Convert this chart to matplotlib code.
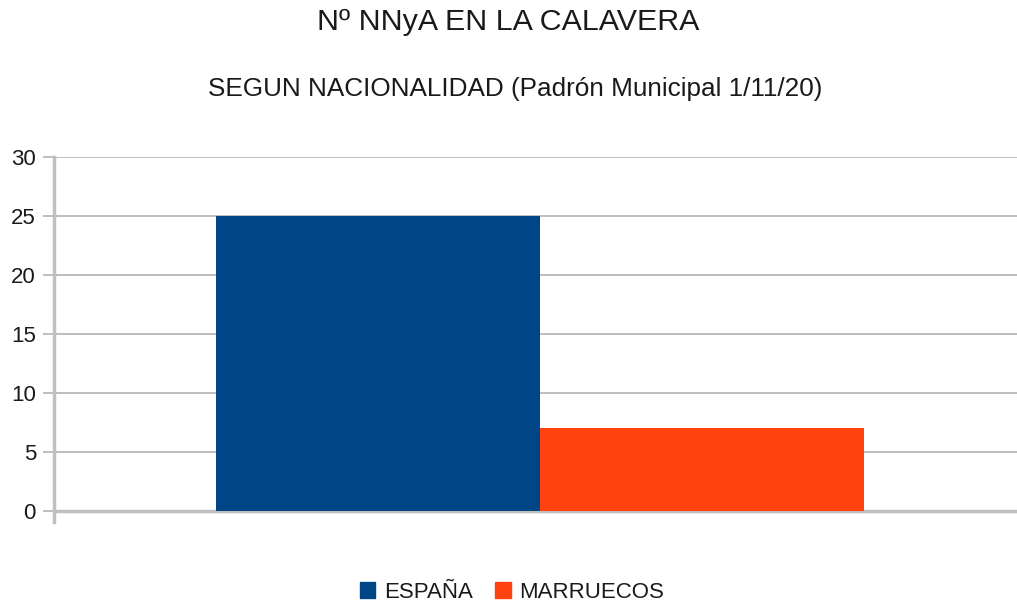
import matplotlib
matplotlib.use("Agg")
import matplotlib.pyplot as plt
from matplotlib.patches import Patch

plt.rcParams['font.family'] = ['Liberation Sans', 'DejaVu Sans']

title = "Nº NNyA EN LA CALAVERA"
subtitle = "SEGUN NACIONALIDAD (Padrón Municipal 1/11/20)"
series = ["ESPAÑA", "MARRUECOS"]
values = [25, 7]
colors = ["#004586", "#ff420e"]
yticks = [0, 5, 10, 15, 20, 25, 30]

W, H = 1017, 606
fig = plt.figure(figsize=(W / 100, H / 100), dpi=100)
left, right, top, bottom = 54, 1017, 157, 511
ax = fig.add_axes([left / W, (H - bottom) / H, (right - left) / W, (bottom - top) / H])

positions = [-1, 0]
for x, v, c in zip(positions, values, colors):
    ax.bar(x, v, width=1, align='edge', color=c, zorder=3)

ax.set_xlim(-1.5, 1.472)
ax.set_ylim(0, 30)
ax.set_yticks(yticks)
ax.set_xticks([])
ax.grid(axis='y', color='#b3b3b3', linewidth=1.2, zorder=0)
for s in ['top', 'right']:
    ax.spines[s].set_visible(False)
ax.spines['left'].set_color('#c0c0c0')
ax.spines['left'].set_linewidth(2.5)
ax.spines['left'].set_bounds(-0.9, 30)
ax.spines['bottom'].set_color('#c0c0c0')
ax.spines['bottom'].set_linewidth(2.5)
ax.tick_params(axis='y', length=8, width=1.2, color='#b3b3b3', labelsize=16, pad=5, labelcolor='#1a1a1a')
ax.set_clip_on(False)

fig.text(0.5, 1 - 22 / H, title, ha='center', va='center', fontsize=21.9, color='#1a1a1a')
fig.text(515 / W, 1 - 89 / H, subtitle, ha='center', va='center', fontsize=18.8, color='#1a1a1a')

handles = [Patch(facecolor=c, edgecolor=c) for c in colors]
fig.legend(handles, series, loc='center', bbox_to_anchor=(512 / W, 1 - 592 / H), ncol=2,
           frameon=False, fontsize=16, handlelength=0.7, handleheight=0.7, handletextpad=0.4,
           columnspacing=1.0, labelcolor='#1a1a1a')

fig.savefig("out.png", dpi=100)
